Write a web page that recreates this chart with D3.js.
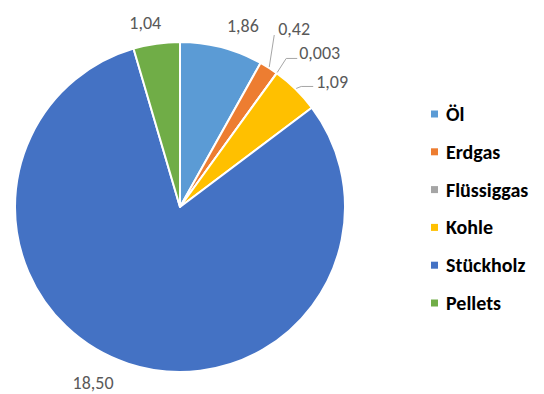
<!DOCTYPE html>
<html>
<head>
<meta charset="utf-8">
<script src="https://cdn.jsdelivr.net/npm/d3@7"></script>
<style>
  body { margin: 0; background: #fff; }
  text { font-family: Carlito, Lato, "Open Sans", sans-serif; }
</style>
</head>
<body>
<script>
// values
var categories = ["Öl", "Erdgas", "Flüssiggas", "Kohle", "Stückholz", "Pellets"];
var values = [1.86, 0.42, 0.003, 1.09, 18.50, 1.04];
var valueLabels = ["1,86", "0,42", "0,003", "1,09", "18,50", "1,04"];
var colors = ["#5B9BD5", "#ED7D31", "#A5A5A5", "#FFC000", "#4472C4", "#70AD47"];

// label placement, Excel "best fit" look
// plain labels: angle offset (deg) + radius; leader labels: bends relative to slice edge
var labelLayout = {
  "Öl":         { da: 4.5, r: 192 },
  "Erdgas":     { bends: [[5, -32]], tx: 4, ty: -6 },
  "Flüssiggas": { bends: [[9, -14], [20, -14]], tx: 2, ty: -6 },
  "Kohle":      { bends: [[5, -2], [17, -2]], tx: 3, ty: -5 },
  "Stückholz":  { da: 8, r: 196 },
  "Pellets":    { da: -2.5, r: 188 }
};

var width = 544, height = 394;
var cx = 180, cy = 207, radius = 165;

var svg = d3.select("body").append("svg")
  .attr("width", width)
  .attr("height", height);

var data = categories.map((c, i) => ({ name: c, value: values[i], label: valueLabels[i], color: colors[i] }));

var pie = d3.pie().sort(null).value(d => d.value);
var arcs = pie(data);
var arc = d3.arc().innerRadius(0).outerRadius(radius);

var g = svg.append("g").attr("transform", "translate(" + cx + "," + cy + ")");

g.selectAll("path.slice")
  .data(arcs)
  .enter()
  .append("path")
  .attr("class", "slice")
  .attr("d", arc)
  .attr("fill", d => d.data.color)
  .attr("stroke", "#fff")
  .attr("stroke-width", 2)
  .attr("stroke-linejoin", "round");

function polar(a, r) {
  return [Math.sin(a) * r, -Math.cos(a) * r];
}

arcs.forEach(function(d) {
  var lay = labelLayout[d.data.name];
  var mid = (d.startAngle + d.endAngle) / 2;
  var x, y, anchor;
  if (lay.bends) {
    var p0 = polar(mid, radius + 1);
    var pts = [p0].concat(lay.bends.map(b => [p0[0] + b[0], p0[1] + b[1]]));
    g.append("path")
      .attr("d", d3.line()(pts))
      .attr("fill", "none")
      .attr("stroke", "#A6A6A6")
      .attr("stroke-width", 1);
    var end = pts[pts.length - 1];
    x = end[0] + lay.tx;
    y = end[1] + lay.ty;
    anchor = "start";
  } else {
    var p = polar(mid + lay.da * Math.PI / 180, lay.r);
    x = p[0];
    y = p[1];
    anchor = "middle";
  }
  g.append("text")
    .attr("x", x)
    .attr("y", y)
    .attr("dy", "0.35em")
    .attr("text-anchor", anchor)
    .attr("font-size", 18)
    .attr("fill", "#595959")
    .text(d.data.label);
});

// legend
var legendY = d3.scalePoint()
  .domain(categories)
  .range([114, 303]);

var legend = svg.append("g").attr("class", "legend");

var items = legend.selectAll("g")
  .data(data)
  .enter()
  .append("g")
  .attr("transform", d => "translate(431," + legendY(d.name) + ")");

items.append("rect")
  .attr("x", 0)
  .attr("y", -3.5)
  .attr("width", 7)
  .attr("height", 7)
  .attr("fill", d => d.color);

items.append("text")
  .attr("x", 15)
  .attr("y", 0)
  .attr("dy", "0.35em")
  .attr("font-size", 20)
  .attr("font-weight", "bold")
  .attr("fill", "#000")
  .text(d => d.name);
</script>
</body>
</html>
